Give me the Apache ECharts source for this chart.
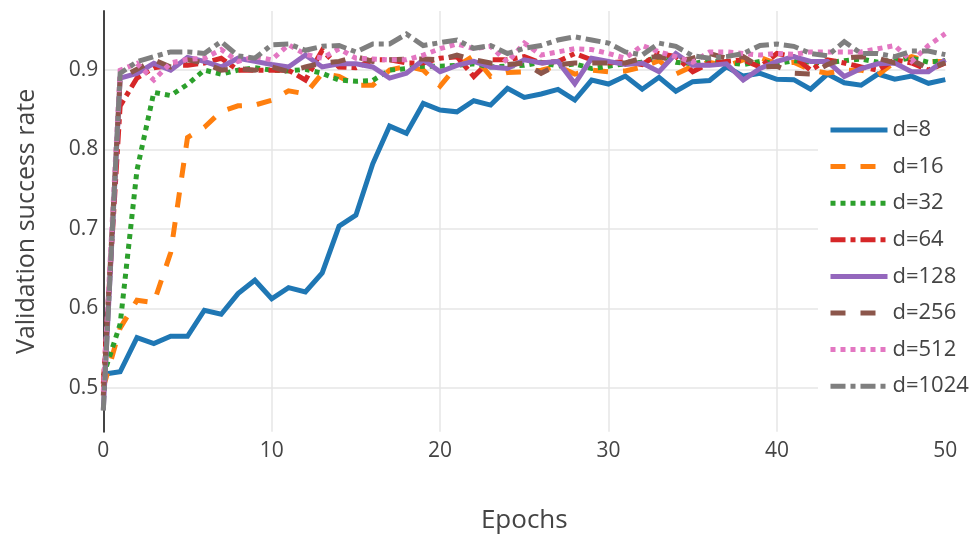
<!DOCTYPE html>
<html>
<head>
<meta charset="utf-8">
<script src="https://cdn.jsdelivr.net/npm/echarts@6/dist/echarts.min.js"></script>
<style>html,body{margin:0;padding:0;background:#fff}#chart{width:977px;height:536px}</style>
</head>
<body>
<div id="chart"></div>
<script>
var epochs = [];
for (var i = 0; i <= 50; i++) epochs.push(i);

var seriesNames = ["d=8", "d=16", "d=32", "d=64", "d=128", "d=256", "d=512", "d=1024"];

var d8 = [0.517, 0.52, 0.563, 0.5555, 0.5647, 0.5647, 0.5975, 0.5925, 0.6185, 0.6353, 0.612, 0.626, 0.6206, 0.6445, 0.7034, 0.7173, 0.782, 0.8295, 0.8203, 0.858, 0.8497, 0.8475, 0.8614, 0.856, 0.877, 0.8657, 0.87, 0.8758, 0.8623, 0.8875, 0.8825, 0.8925, 0.876, 0.891, 0.8734, 0.8855, 0.887, 0.9043, 0.8925, 0.896, 0.8885, 0.888, 0.876, 0.895, 0.884, 0.881, 0.895, 0.8885, 0.8925, 0.8834, 0.888];
var d16 = [0.5, 0.575, 0.61, 0.607, 0.67, 0.815, 0.828, 0.848, 0.855, 0.856, 0.862, 0.874, 0.87, 0.896, 0.892, 0.881, 0.881, 0.9, 0.905, 0.9, 0.88, 0.905, 0.918, 0.892, 0.897, 0.898, 0.9, 0.905, 0.895, 0.9, 0.898, 0.899, 0.904, 0.912, 0.895, 0.905, 0.91, 0.905, 0.913, 0.916, 0.908, 0.91, 0.9, 0.896, 0.9, 0.9, 0.894, 0.91, 0.917, 0.911, 0.911];
var d32 = [0.515, 0.58, 0.774, 0.872, 0.868, 0.882, 0.9, 0.895, 0.9, 0.903, 0.9, 0.899, 0.901, 0.896, 0.8875, 0.886, 0.887, 0.9, 0.902, 0.905, 0.905, 0.906, 0.908, 0.904, 0.905, 0.906, 0.91, 0.905, 0.908, 0.902, 0.905, 0.908, 0.91, 0.917, 0.91, 0.908, 0.912, 0.91, 0.907, 0.911, 0.908, 0.912, 0.91, 0.909, 0.912, 0.914, 0.91, 0.913, 0.915, 0.91, 0.912];
var d64 = [0.505, 0.855, 0.89, 0.903, 0.906, 0.906, 0.909, 0.915, 0.9, 0.9, 0.9, 0.9, 0.8875, 0.925, 0.904, 0.903, 0.913, 0.913, 0.909, 0.909, 0.915, 0.917, 0.892, 0.913, 0.913, 0.917, 0.909, 0.911, 0.921, 0.913, 0.909, 0.911, 0.907, 0.921, 0.917, 0.898, 0.909, 0.911, 0.913, 0.904, 0.921, 0.917, 0.9, 0.913, 0.909, 0.904, 0.9, 0.913, 0.909, 0.9, 0.909];
var d128 = [0.472, 0.89, 0.896, 0.9085, 0.9, 0.916, 0.911, 0.904, 0.915, 0.911, 0.907, 0.904, 0.919, 0.904, 0.908, 0.908, 0.904, 0.89, 0.896, 0.913, 0.898, 0.906, 0.911, 0.904, 0.902, 0.913, 0.909, 0.911, 0.883, 0.915, 0.911, 0.907, 0.909, 0.898, 0.921, 0.906, 0.906, 0.908, 0.8875, 0.902, 0.911, 0.917, 0.911, 0.911, 0.892, 0.902, 0.908, 0.909, 0.898, 0.898, 0.913];
var d256 = [0.49, 0.89, 0.901, 0.913, 0.904, 0.913, 0.909, 0.9, 0.902, 0.9, 0.904, 0.898, 0.904, 0.909, 0.911, 0.917, 0.911, 0.913, 0.914, 0.914, 0.913, 0.919, 0.913, 0.909, 0.907, 0.909, 0.896, 0.907, 0.909, 0.909, 0.909, 0.909, 0.915, 0.917, 0.911, 0.915, 0.921, 0.915, 0.917, 0.904, 0.905, 0.896, 0.895, 0.907, 0.915, 0.917, 0.915, 0.909, 0.913, 0.902, 0.909];
var d512 = [0.495, 0.9, 0.9085, 0.8875, 0.909, 0.9136, 0.915, 0.926, 0.911, 0.917, 0.913, 0.932, 0.92, 0.915, 0.927, 0.915, 0.914, 0.913, 0.913, 0.919, 0.927, 0.933, 0.927, 0.93, 0.91, 0.934, 0.919, 0.923, 0.927, 0.926, 0.921, 0.915, 0.931, 0.923, 0.917, 0.91, 0.923, 0.923, 0.921, 0.919, 0.921, 0.92, 0.923, 0.923, 0.923, 0.923, 0.927, 0.931, 0.911, 0.931, 0.946];
var d1024 = [0.471, 0.896, 0.9106, 0.917, 0.923, 0.923, 0.921, 0.936, 0.918, 0.915, 0.932, 0.933, 0.925, 0.93, 0.931, 0.923, 0.933, 0.933, 0.9455, 0.931, 0.9346, 0.938, 0.9275, 0.931, 0.921, 0.9275, 0.931, 0.938, 0.942, 0.938, 0.934, 0.923, 0.919, 0.934, 0.93, 0.918, 0.915, 0.917, 0.921, 0.931, 0.933, 0.93, 0.921, 0.918, 0.936, 0.921, 0.921, 0.917, 0.924, 0.924, 0.9195];

var yTicks = [0.5, 0.6, 0.7, 0.8, 0.9];
var xTicks = [0, 10, 20, 30, 40, 50];

var allData = [d8, d16, d32, d64, d128, d256, d512, d1024];
var colors = ["#1f77b4", "#ff7f0e", "#2ca02c", "#d62728", "#9467bd", "#8c564b", "#e377c2", "#7f7f7f"];
var W = 5;
var dashes = ["solid", [15, 15], [5, 5], [15, 5, 5, 5], "solid", [15, 15], [5, 5], [15, 5, 5, 5]];

var FONT = "Open Sans";
var series = seriesNames.map(function (name, k) {
  return {
    name: name,
    type: "line",
    data: epochs.map(function (e, j) { return [e, allData[k][j]]; }),
    showSymbol: false,
    symbol: "none",
    smooth: false,
    animation: false,
    color: colors[k],
    itemStyle: { color: colors[k] },
    lineStyle: { color: colors[k], width: W, type: dashes[k], cap: "butt", join: "miter" },
    z: 2 + k
  };
});

var chart = echarts.init(document.getElementById("chart"), null, { renderer: "canvas" });
chart.setOption({
  animation: false,
  backgroundColor: "#fff",
  textStyle: { fontFamily: FONT },
  grid: { left: 103.3, right: 31.7, top: 11, bottom: 104.3, containLabel: false, outerBoundsMode: "none" },
  legend: {
    show: true,
    orient: "vertical",
    left: 818,
    top: 109,
    padding: 10,
    backgroundColor: "#fff",
    itemWidth: 57,
    itemHeight: 14,
    itemGap: 14.6,
    data: seriesNames,
    itemStyle: { opacity: 0, borderWidth: 0 },
    lineStyle: { width: W, cap: "butt" },
    textStyle: { fontFamily: FONT, fontSize: 22, color: "#444" },
    z: 20
  },
  xAxis: {
    type: "value",
    min: 0,
    max: 50,
    interval: 10,
    name: "Epochs",
    nameLocation: "middle",
    nameGap: 76,
    nameTextStyle: { fontFamily: FONT, fontSize: 26, color: "#444" },
    axisLine: { show: false },
    axisTick: { show: false },
    axisLabel: { fontFamily: FONT, fontSize: 21, color: "#444", margin: 9,
      formatter: function (v) { return xTicks.indexOf(v) >= 0 ? String(v) : ""; } },
    splitLine: { show: true, showMinLine: false, showMaxLine: false, lineStyle: { color: "#e6e6e6", width: 1.5 } }
  },
  yAxis: {
    type: "value",
    min: 0.4445,
    max: 0.9745,
    splitNumber: 5,
    name: "Validation success rate",
    nameLocation: "middle",
    nameGap: 64,
    nameTextStyle: { fontFamily: FONT, fontSize: 25, color: "#444" },
    axisLine: { show: true, onZero: false, lineStyle: { color: "#444", width: 2 } },
    axisTick: { show: false },
    axisLabel: { fontFamily: FONT, fontSize: 21, color: "#444", margin: 5, showMinLabel: false, showMaxLabel: false,
      formatter: function (v) {
        for (var i = 0; i < yTicks.length; i++) { if (Math.abs(v - yTicks[i]) < 1e-6) return yTicks[i].toFixed(1); }
        return "";
      } },
    splitLine: { show: true, showMinLine: false, showMaxLine: false, lineStyle: { color: "#e6e6e6", width: 1.5 } }
  },
  series: series
});
</script>
</body>
</html>
